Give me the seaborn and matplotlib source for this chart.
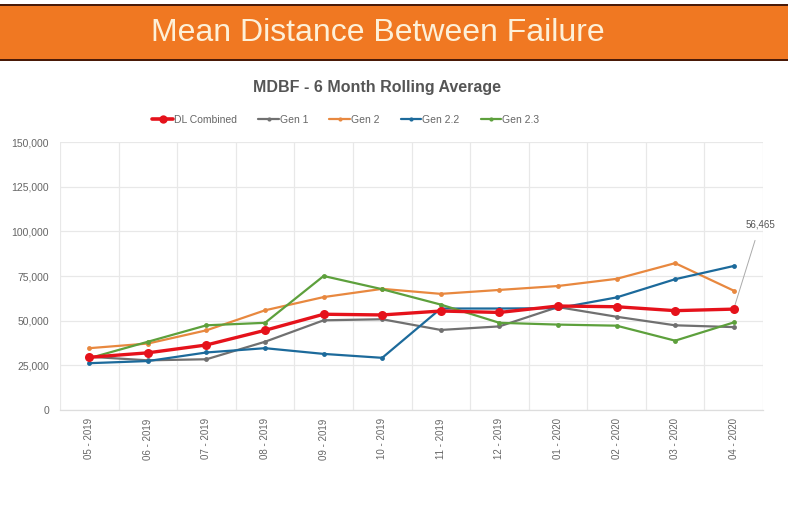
import matplotlib
matplotlib.use("Agg")
import matplotlib.pyplot as plt
import matplotlib.patches as mpatches
from matplotlib.lines import Line2D
from matplotlib.ticker import FuncFormatter, FixedLocator
import seaborn as sns
import pandas as pd

months = ["05 - 2019", "06 - 2019", "07 - 2019", "08 - 2019", "09 - 2019", "10 - 2019",
          "11 - 2019", "12 - 2019", "01 - 2020", "02 - 2020", "03 - 2020", "04 - 2020"]
dl_combined = [29500, 32000, 36400, 44600, 53600, 53200, 55400, 54600, 58200, 57800, 55600, 56465]
gen1 = [29800, 27800, 28400, 38200, 50200, 50800, 44800, 46800, 57600, 52200, 47400, 46400]
gen2 = [34600, 37200, 44600, 55800, 63200, 67800, 65000, 67200, 69400, 73400, 82200, 66800]
gen22 = [26200, 27400, 32200, 34600, 31400, 29200, 56800, 56800, 57000, 63000, 73200, 80600]
gen23 = [29000, 38200, 47400, 48800, 75000, 67600, 59000, 48800, 47800, 47200, 38800, 49000]

series_names = ["DL Combined", "Gen 1", "Gen 2", "Gen 2.2", "Gen 2.3"]
series_values = [dl_combined, gen1, gen2, gen22, gen23]
colors = ["#e5121b", "#707070", "#e8883f", "#1c6a9b", "#5da03c"]

rows = []
for name, vals in zip(series_names, series_values):
    for i, (m, v) in enumerate(zip(months, vals)):
        rows.append({"series": name, "idx": i, "month": m, "value": v})
df = pd.DataFrame(rows)

sns.set_theme(style="white")
plt.rcParams["font.family"] = ["Liberation Sans", "DejaVu Sans"]

fig = plt.figure(figsize=(7.88, 5.05), dpi=100)
fig.patch.set_facecolor("white")

# Banner
W, H = 788, 505
def fy(py):
    return 1 - py / H
fig.patches.append(mpatches.Rectangle((0, fy(61)), 1, (61 - 4) / H, transform=fig.transFigure,
                                      facecolor="#4a1a08", edgecolor="none", zorder=0))
fig.patches.append(mpatches.Rectangle((0, fy(58.5)), 1, (58.5 - 6) / H, transform=fig.transFigure,
                                      facecolor="#f07822", edgecolor="none", zorder=1))
fig.text(378 / W, fy(33), "Mean Distance Between Failure", ha="center", va="center",
         fontsize=23, color="#fdf0d8", zorder=2)
fig.text(377 / W, fy(88), "MDBF - 6 Month Rolling Average", ha="center", va="center",
         fontsize=11.5, fontweight="bold", color="#555555")

ax = fig.add_axes([60 / W, 1 - 410 / H, 703 / W, 268 / H])

for name, col in zip(series_names, colors):
    sub = df[df["series"] == name]
    if name == "DL Combined":
        lw, ms, z = 2.4, 6.5, 5
    else:
        lw, ms, z = 1.6, 3.5, 3
    sns.lineplot(data=sub, x="idx", y="value", color=col, linewidth=lw, marker="o",
                 markersize=ms, markeredgewidth=0, ax=ax, zorder=z, legend=False)

ax.set_xlim(-0.5, len(months) - 0.5)
ax.set_ylim(0, 150000)
ax.set_yticks([0, 25000, 50000, 75000, 100000, 125000, 150000])
ax.yaxis.set_major_formatter(FuncFormatter(lambda v, p: f"{int(v):,}"))
ax.set_xticks(range(len(months)))
ax.set_xticklabels(months, rotation=90)
ax.xaxis.set_minor_locator(FixedLocator([i - 0.5 for i in range(len(months) + 1)]))
ax.grid(False)
ax.grid(True, axis="y", which="major", color="#e8e8e8", linewidth=0.9)
ax.grid(True, axis="x", which="minor", color="#e8e8e8", linewidth=0.9)
ax.tick_params(axis="both", which="both", length=0, labelsize=7, labelcolor="#666666")
ax.tick_params(axis="y", pad=8, labelsize=7.5)
ax.tick_params(axis="x", pad=6)
ax.set_xlabel("")
ax.set_ylabel("")
for s in ["top", "right", "left"]:
    ax.spines[s].set_visible(False)
ax.spines["bottom"].set_color("#dddddd")
ax.spines["bottom"].set_linewidth(0.9)

ax.annotate(f"{dl_combined[-1]:,}", xy=(11, dl_combined[-1]), xytext=(11.45, 104000),
            textcoords="data", ha="center", va="center", fontsize=7, color="#555555",
            annotation_clip=False,
            arrowprops=dict(arrowstyle="-", color="#aaaaaa", linewidth=0.7,
                            shrinkA=6, shrinkB=2))

handles = []
for name, col in zip(series_names, colors):
    if name == "DL Combined":
        h = Line2D([], [], color=col, linewidth=2.6, marker="o", markersize=6, markeredgewidth=0)
    else:
        h = Line2D([], [], color=col, linewidth=1.6, marker="o", markersize=3, markeredgewidth=0)
    handles.append(h)
leg = fig.legend(handles, series_names, loc="center", bbox_to_anchor=(346 / W, fy(120)),
                 ncol=5, frameon=False, fontsize=7.5, handlelength=2.0, handletextpad=0.1,
                 columnspacing=2.0)
for t in leg.get_texts():
    t.set_color("#666666")

fig.savefig("out.png", dpi=100, facecolor="white")
